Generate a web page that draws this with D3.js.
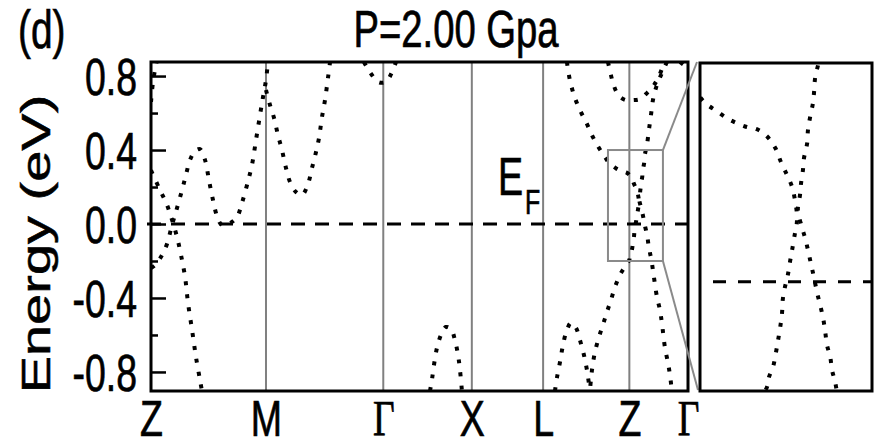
<!DOCTYPE html>
<html>
<head>
<meta charset="utf-8">
<script src="https://cdn.jsdelivr.net/npm/d3@7"></script>
<style>
  html, body { margin: 0; padding: 0; background: #fff; }
  svg { display: block; }
</style>
</head>
<body>
<svg id="chart" width="874" height="446"></svg>
<script>
// High-symmetry points along the k-path
const kTicks = [0, 1.0, 2.02, 2.79, 3.41, 4.16, 4.67];
const kLabels = ["Z", "M", "Γ", "X", "L", "Z", "Γ"];

// Energy axis (eV)
const eDomain = [-0.903, 0.876];
const eTicksMajor = [-0.8, -0.4, 0.0, 0.4, 0.8];
const eTicksMinor = [-0.6, -0.2, 0.2, 0.6];
const eTickLabels = ["-0.8", "-0.4", "0.0", "0.4", "0.8"];

// Zoom window around Z (k range, energy range)
const zoomK = [3.974, 4.452];
const zoomE = [-0.20, 0.40];

// Bands: [k, E] pairs
const bandZtop = [[0, 0.66], [0.02, 0.78], [0.05, 0.88]];
const bandZdown = [[0, 0.29], [0.078, 0.184], [0.139, 0.103], [0.183, 0.022], [0.226, -0.070],
  [0.261, -0.168], [0.296, -0.286], [0.322, -0.427], [0.357, -0.573], [0.391, -0.719],
  [0.426, -0.843], [0.443, -0.903]];
const bandZM = [[0, -0.238], [0.035, -0.222], [0.096, -0.168], [0.139, -0.108], [0.183, -0.005],
  [0.226, 0.086], [0.270, 0.184], [0.304, 0.265], [0.339, 0.346], [0.383, 0.395], [0.426, 0.405],
  [0.470, 0.346], [0.504, 0.238], [0.539, 0.130], [0.574, 0.043], [0.617, -0.005], [0.687, 0.005],
  [0.748, 0.038], [0.791, 0.114], [0.835, 0.211], [0.878, 0.319], [0.913, 0.454], [0.948, 0.589],
  [0.974, 0.686], [1.0, 0.778], [1.017, 0.876]];
const bandMG = [[1.0, 0.724], [1.035, 0.643], [1.070, 0.573], [1.104, 0.481], [1.139, 0.400],
  [1.174, 0.303], [1.209, 0.227], [1.261, 0.173], [1.313, 0.157], [1.365, 0.216], [1.400, 0.303],
  [1.435, 0.389], [1.461, 0.465], [1.487, 0.578], [1.513, 0.670], [1.539, 0.789], [1.557, 0.876]];
const bandGamma = [[1.852, 0.876], [1.904, 0.822], [1.974, 0.768], [2.043, 0.768], [2.096, 0.822],
  [2.130, 0.876]];
const bandX = [[2.426, -0.903], [2.443, -0.843], [2.461, -0.762], [2.487, -0.670], [2.522, -0.600],
  [2.565, -0.557], [2.609, -0.568], [2.643, -0.627], [2.670, -0.708], [2.687, -0.789], [2.704, -0.903]];
const bandL = [[3.513, -0.903], [3.530, -0.832], [3.557, -0.746], [3.583, -0.654], [3.617, -0.573],
  [3.652, -0.535], [3.696, -0.562], [3.730, -0.627], [3.765, -0.708], [3.791, -0.789], [3.817, -0.903]];
const bandCone1 = [[3.617, 0.876], [3.643, 0.778], [3.687, 0.681], [3.739, 0.605], [3.791, 0.541],
  [3.843, 0.470], [3.896, 0.411], [3.948, 0.362], [3.988, 0.327], [4.021, 0.312], [4.049, 0.299],
  [4.076, 0.290], [4.104, 0.283], [4.132, 0.279], [4.160, 0.266], [4.183, 0.245], [4.199, 0.219],
  [4.216, 0.195], [4.230, 0.173], [4.238, 0.149], [4.243, 0.126], [4.243, 0.107], [4.238, 0.089],
  [4.230, 0.058], [4.224, 0.036], [4.218, 0.012], [4.210, -0.010], [4.204, -0.033], [4.202, -0.057],
  [4.197, -0.083], [4.191, -0.107], [4.185, -0.130], [4.177, -0.156], [4.166, -0.174], [4.160, -0.193],
  [4.120, -0.232], [4.078, -0.276], [4.035, -0.341], [4.000, -0.411], [3.965, -0.476], [3.930, -0.546],
  [3.896, -0.611], [3.861, -0.692], [3.835, -0.789], [3.817, -0.903]];
const bandCone2 = [[4.487, 0.876], [4.435, 0.805], [4.391, 0.735], [4.365, 0.670], [4.348, 0.589],
  [4.330, 0.508], [4.313, 0.427], [4.302, 0.396], [4.294, 0.373], [4.291, 0.347], [4.288, 0.327],
  [4.280, 0.301], [4.274, 0.277], [4.272, 0.254], [4.263, 0.226], [4.260, 0.204], [4.255, 0.181],
  [4.252, 0.159], [4.246, 0.131], [4.257, 0.100], [4.266, 0.080], [4.274, 0.058], [4.280, 0.040],
  [4.285, 0.025], [4.291, 0.007], [4.299, -0.019], [4.308, -0.043], [4.316, -0.066], [4.322, -0.092],
  [4.327, -0.116], [4.336, -0.138], [4.341, -0.162], [4.350, -0.185], [4.365, -0.249], [4.400, -0.395],
  [4.426, -0.465], [4.443, -0.535], [4.470, -0.670], [4.496, -0.751], [4.513, -0.816], [4.530, -0.903]];
const bandZU = [[3.974, 0.876], [4.0, 0.805], [4.026, 0.746], [4.070, 0.692], [4.130, 0.670],
  [4.191, 0.670], [4.252, 0.676], [4.313, 0.708], [4.374, 0.751], [4.426, 0.811], [4.461, 0.876]];
const bandGEnd = [[4.600, 0.876], [4.670, 0.843]];

const bands = [bandZtop, bandZdown, bandZM, bandMG, bandGamma, bandX, bandL,
  bandCone1, bandCone2, bandZU, bandGEnd];

const svg = d3.select("#chart");
const FONT = "'Liberation Sans', Arial, Helvetica, sans-serif";
const SERIF = "'Liberation Serif', 'Times New Roman', serif";
const SX = 0.72; // narrow glyph proportion used throughout
const TEXT_STROKE = 0.7; // slight weight added to the glyphs

// Main panel geometry
const main = { x0: 151, x1: 688, y0: 62, y1: 391 };
const x = d3.scaleLinear().domain([kTicks[0], kTicks[kTicks.length - 1]]).range([main.x0, main.x1]);
const y = d3.scaleLinear().domain(eDomain).range([main.y1, main.y0]);

// Inset panel geometry
const ins = { x0: 700, x1: 872, y0: 63, y1: 391 };
const xi = d3.scaleLinear().domain(zoomK).range([ins.x0, ins.x1]);
const yi = d3.scaleLinear().domain(zoomE).range([ins.y1, ins.y0]);

const defs = svg.append("defs");
defs.append("clipPath").attr("id", "clipMain").append("rect")
  .attr("x", main.x0).attr("y", main.y0).attr("width", main.x1 - main.x0).attr("height", main.y1 - main.y0);
defs.append("clipPath").attr("id", "clipIns").append("rect")
  .attr("x", ins.x0).attr("y", ins.y0).attr("width", ins.x1 - ins.x0).attr("height", ins.y1 - ins.y0);

function label(g, px, py, str, size, anchor, family, sx) {
  return g.append("text")
    .attr("transform", `translate(${px},${py}) scale(${sx || SX},1)`)
    .attr("text-anchor", anchor || "start")
    .attr("font-family", family || FONT)
    .attr("font-size", size)
    .attr("fill", "#000").attr("stroke", "#000").attr("stroke-width", TEXT_STROKE)
    .text(str);
}

// ---- main panel ----
const gMain = svg.append("g");

// vertical lines at interior high-symmetry points
gMain.selectAll("line.sym").data(kTicks.slice(1, -1)).join("line")
  .attr("class", "sym")
  .attr("x1", d => x(d)).attr("x2", d => x(d))
  .attr("y1", main.y0).attr("y2", main.y1)
  .attr("stroke", "#808080").attr("stroke-width", 2);

// Fermi level
gMain.append("line")
  .attr("x1", main.x0 - 4).attr("x2", main.x1)
  .attr("y1", y(0)).attr("y2", y(0))
  .attr("stroke", "#000").attr("stroke-width", 3)
  .attr("stroke-dasharray", "14,10");

const lineMain = d3.line().x(d => x(d[0])).y(d => y(d[1])).curve(d3.curveCatmullRom.alpha(0.5));
gMain.append("g").attr("clip-path", "url(#clipMain)")
  .selectAll("path").data(bands).join("path")
  .attr("d", lineMain)
  .attr("fill", "none").attr("stroke", "#000").attr("stroke-width", 4)
  .attr("stroke-dasharray", "4,9");

// zoom box
gMain.append("rect")
  .attr("x", x(zoomK[0])).attr("y", y(zoomE[1]))
  .attr("width", x(zoomK[1]) - x(zoomK[0])).attr("height", y(zoomE[0]) - y(zoomE[1]))
  .attr("fill", "none").attr("stroke", "#8a8a8a").attr("stroke-width", 2);

// connectors to the inset
svg.append("line")
  .attr("x1", x(zoomK[1])).attr("y1", y(zoomE[1]))
  .attr("x2", ins.x0 - 3).attr("y2", ins.y0 - 1)
  .attr("stroke", "#8a8a8a").attr("stroke-width", 2);
svg.append("line")
  .attr("x1", x(zoomK[1])).attr("y1", y(zoomE[0]))
  .attr("x2", ins.x0 - 2).attr("y2", ins.y1 - 1)
  .attr("stroke", "#8a8a8a").attr("stroke-width", 2);

// y axis ticks (inward)
const yAxisMajor = d3.axisLeft(y).tickValues(eTicksMajor).tickSize(-15).tickPadding(19.5)
  .tickFormat((d, i) => eTickLabels[i]);
const yAxisMinor = d3.axisLeft(y).tickValues(eTicksMinor).tickSize(-7).tickFormat("");
const gyMinor = gMain.append("g").attr("transform", `translate(${main.x0},0)`).call(yAxisMinor);
const gyMajor = gMain.append("g").attr("transform", `translate(${main.x0},0)`).call(yAxisMajor);
[gyMinor, gyMajor].forEach(g => {
  g.select(".domain").remove();
  g.selectAll(".tick line").attr("stroke", "#000").attr("stroke-width", 2.5);
});
gyMajor.selectAll(".tick text")
  .attr("font-family", FONT).attr("font-size", 52).attr("fill", "#000")
  .attr("stroke", "#000").attr("stroke-width", TEXT_STROKE)
  .attr("dy", "0.36em")
  .attr("transform", `scale(${SX},1)`);

// x axis labels
const xAxis = d3.axisBottom(x).tickValues(kTicks).tickSize(0).tickPadding(9)
  .tickFormat((d, i) => kLabels[i]);
const gx = gMain.append("g").attr("transform", `translate(0,${main.y1})`).call(xAxis);
gx.select(".domain").remove();
gx.selectAll(".tick text")
  .attr("font-size", 50).attr("fill", "#000")
  .attr("stroke", "#000").attr("stroke-width", TEXT_STROKE)
  .attr("font-family", (d, i) => kLabels[i] === "Γ" ? SERIF : FONT)
  .attr("transform", `scale(0.75,1)`);

// frame
gMain.append("rect")
  .attr("x", main.x0).attr("y", main.y0)
  .attr("width", main.x1 - main.x0).attr("height", main.y1 - main.y0)
  .attr("fill", "none").attr("stroke", "#000").attr("stroke-width", 3);

// ---- inset panel ----
const gIns = svg.append("g");
gIns.append("line")
  .attr("x1", ins.x0).attr("x2", ins.x1)
  .attr("y1", yi(0)).attr("y2", yi(0))
  .attr("stroke", "#000").attr("stroke-width", 3)
  .attr("stroke-dasharray", "13,12").attr("stroke-dashoffset", -13);
const lineIns = d3.line().x(d => xi(d[0])).y(d => yi(d[1])).curve(d3.curveCatmullRom.alpha(0.5));
gIns.append("g").attr("clip-path", "url(#clipIns)")
  .selectAll("path").data([bandCone1, bandCone2]).join("path")
  .attr("d", lineIns)
  .attr("fill", "none").attr("stroke", "#000").attr("stroke-width", 4)
  .attr("stroke-dasharray", "4,9");
gIns.append("rect")
  .attr("x", ins.x0).attr("y", ins.y0)
  .attr("width", ins.x1 - ins.x0).attr("height", ins.y1 - ins.y0)
  .attr("fill", "none").attr("stroke", "#000").attr("stroke-width", 3);

// ---- text ----
label(svg, 456, 47, "P=2.00 Gpa", 51, "middle", FONT, 0.75);
label(svg, 18, 48, "(d)", 54, "start", FONT, 0.72);
svg.append("text")
  .attr("transform", `translate(50,244) rotate(-90) scale(1,${SX})`)
  .attr("text-anchor", "middle")
  .attr("font-family", FONT).attr("font-size", 56).attr("fill", "#000")
  .attr("stroke", "#000").attr("stroke-width", TEXT_STROKE)
  .text("Energy (eV)");
label(svg, 498, 195, "E", 53, "start", FONT, 0.71);
label(svg, 525, 214, "F", 35, "start", FONT, 0.71);
</script>
</body>
</html>
